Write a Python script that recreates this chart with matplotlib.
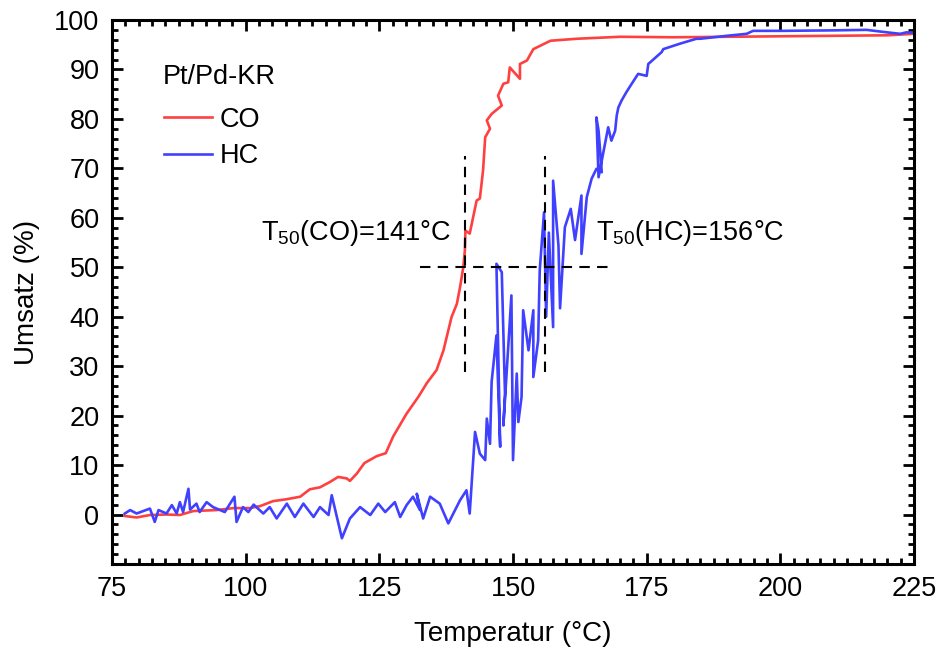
import matplotlib
matplotlib.use("Agg")
import matplotlib.pyplot as plt
from matplotlib.ticker import MultipleLocator

plt.rcParams['font.family'] = ['Liberation Sans', 'DejaVu Sans']
plt.rcParams['mathtext.fontset'] = 'custom'
plt.rcParams['mathtext.rm'] = 'Liberation Sans'

# CO conversion (%) vs temperature (°C)
co_temp = [77.4, 79.6, 82.1, 85.2, 87.7, 90.2, 94.6, 97.7, 100.8, 102.7, 105.1, 107.7,
           110.2, 112.0, 113.9, 115.8, 117.3, 118.9, 119.5, 120.8, 122.2, 124.5, 126.2,
           127.6, 130.1, 132.3, 133.9, 135.7, 137.0, 137.6, 138.5, 139.5, 140.1, 140.7,
           141.0, 141.1, 141.9, 143.2, 143.8, 144.4, 144.8, 145.7, 145.1, 146.0, 147.9,
           147.2, 148.2, 149.1, 149.4, 151.3, 151.3, 152.6, 153.8, 157.0, 161.9, 170.0,
           180.0, 190.0, 200.0, 210.0, 220.0, 225.0]
co_conv = [-0.3, -0.6, -0.1, 0.0, -0.1, 0.7, 0.9, 1.3, 1.3, 1.7, 2.7, 3.1,
           3.6, 5.1, 5.5, 6.6, 7.6, 7.3, 6.8, 8.3, 10.4, 11.8, 12.4,
           15.8, 20.4, 23.8, 26.6, 29.2, 33.2, 35.9, 39.9, 42.6, 46.0, 50.0,
           53.4, 57.4, 56.8, 63.5, 63.9, 69.6, 76.3, 78.0, 79.7, 81.0, 82.7,
           84.7, 87.1, 87.4, 90.4, 88.1, 91.1, 91.8, 94.1, 95.8, 96.2, 96.6,
           96.5, 96.6, 96.7, 96.8, 96.9, 97.2]

# HC conversion (%) vs temperature (°C)
hc_temp = [77.4, 78.4, 79.6, 82.1, 83.0, 83.7, 85.2, 86.2, 87.1, 87.7, 88.3, 89.3,
           89.6, 90.8, 91.4, 92.7, 93.9, 96.1, 97.9, 98.3, 99.5, 100.5, 101.5, 103.3,
           104.5, 105.8, 107.7, 109.2, 110.8, 112.7, 113.9, 115.5, 116.1, 118.0, 119.5,
           121.4, 123.3, 124.8, 126.1, 127.9, 128.9, 130.1, 131.3, 132.6, 132.0, 133.2,
           134.5, 136.3, 137.9, 140.1, 141.3, 141.9, 142.9, 143.8, 144.8, 145.1, 145.7,
           146.0, 146.9, 147.6, 146.9, 147.9, 148.5, 148.2, 149.7, 150.0, 150.7, 151.0,
           151.6, 151.9, 152.9, 153.8, 153.8, 154.7, 155.0, 155.8, 156.2, 156.7, 157.5,
           157.5, 158.5, 158.8, 159.7, 160.8, 161.6, 162.8, 162.8, 163.8, 164.7, 165.6,
           166.6, 166.0, 165.6, 166.0, 167.8, 168.4, 169.1, 169.4, 169.7, 170.3, 171.2,
           172.2, 173.4, 175.0, 175.3, 177.8, 178.1, 181.2, 184.3, 185.0, 190.0, 193.7,
           194.9, 200.5, 210.0, 216.1, 219.9, 222.4, 223.6, 225.0]
hc_conv = [0.2, 0.9, 0.2, 1.2, -1.5, 0.9, 0.2, 1.9, 0.2, 2.5, 0.5, 5.2,
           1.0, 2.2, 0.5, 2.5, 1.5, 0.5, 3.6, -1.5, 1.5, 0.5, 2.0, 0.2,
           1.5, -0.8, 2.2, -0.5, 2.2, -0.5, 1.5, -0.1, 3.9, -4.8, -0.8,
           1.5, -0.1, 2.2, 0.5, 2.5, -0.5, 1.9, 3.6, 0.9, 4.2, -0.8,
           3.6, 2.2, -1.8, 2.9, 4.9, 0.2, 16.7, 12.3, 11.0, 19.4, 14.3,
           26.8, 36.2, 13.7, 50.7, 49.0, 24.4, 18.0, 44.3, 11.0, 28.5, 18.7,
           23.8, 41.3, 33.2, 41.3, 27.8, 35.2, 49.4, 61.1, 40.0, 57.0, 37.9,
           67.5, 54.4, 41.7, 58.1, 61.8, 55.5, 64.5, 52.7, 64.2, 67.9, 69.9,
           69.2, 77.6, 80.3, 68.2, 78.3, 75.6, 77.6, 80.7, 82.3, 83.7, 85.4,
           87.1, 89.1, 88.7, 91.1, 93.5, 94.1, 95.2, 96.2, 96.2, 96.8, 97.2,
           97.8, 97.8, 97.9, 98.0, 97.5, 97.2, 97.5, 97.4]

# light-off temperatures (T50)
t50_co = 141
t50_hc = 156

fig = plt.figure(figsize=(9.37, 6.59), dpi=100)
ax = fig.add_axes([0.1195, 0.1442, 0.856, 0.8255])

ax.plot(co_temp, co_conv, color='#ff4040', lw=1.9, label='CO')
ax.plot(hc_temp, hc_conv, color='#4040ff', lw=1.9, label='HC')

dash = dict(color='black', lw=1.5, linestyle=(0, (5, 3.5)))
ax.plot([t50_co, t50_co], [28.8, 72.5], **dash)
ax.plot([t50_hc, t50_hc], [28.8, 72.5], **dash)
ax.plot([132.6, 168.1], [50, 50], **dash)

ax.text(138.4, 57, r'T$_{50}$(CO)=141°C', fontsize=19.5, ha='right', va='center')
ax.text(165.6, 57, r'T$_{50}$(HC)=156°C', fontsize=19.5, ha='left', va='center')

ax.set_xlim(75, 225)
ax.set_ylim(-10, 100)
ax.xaxis.set_major_locator(MultipleLocator(25))
ax.xaxis.set_minor_locator(MultipleLocator(2.5))
ax.set_yticks(range(0, 101, 10))
ax.yaxis.set_minor_locator(MultipleLocator(2))

ax.tick_params(which='both', direction='in', top=True, right=True, width=2)
ax.tick_params(which='major', length=8, labelsize=19.5, pad=9)
ax.tick_params(which='minor', length=4)
for sp in ax.spines.values():
    sp.set_linewidth(2.2)

ax.set_xlabel('Temperatur (°C)', fontsize=20, labelpad=13)
ax.set_ylabel('Umsatz (%)', fontsize=20, labelpad=10)

ax.text(0.0635, 0.896, 'Pt/Pd-KR', transform=ax.transAxes, fontsize=19.5,
        ha='left', va='center')
leg = ax.legend(loc='upper left', bbox_to_anchor=(0.035, 0.885),
                frameon=False, fontsize=19.5, handlelength=1.75,
                handletextpad=0.3, labelspacing=0.38)

fig.savefig('out.png', dpi=100)
